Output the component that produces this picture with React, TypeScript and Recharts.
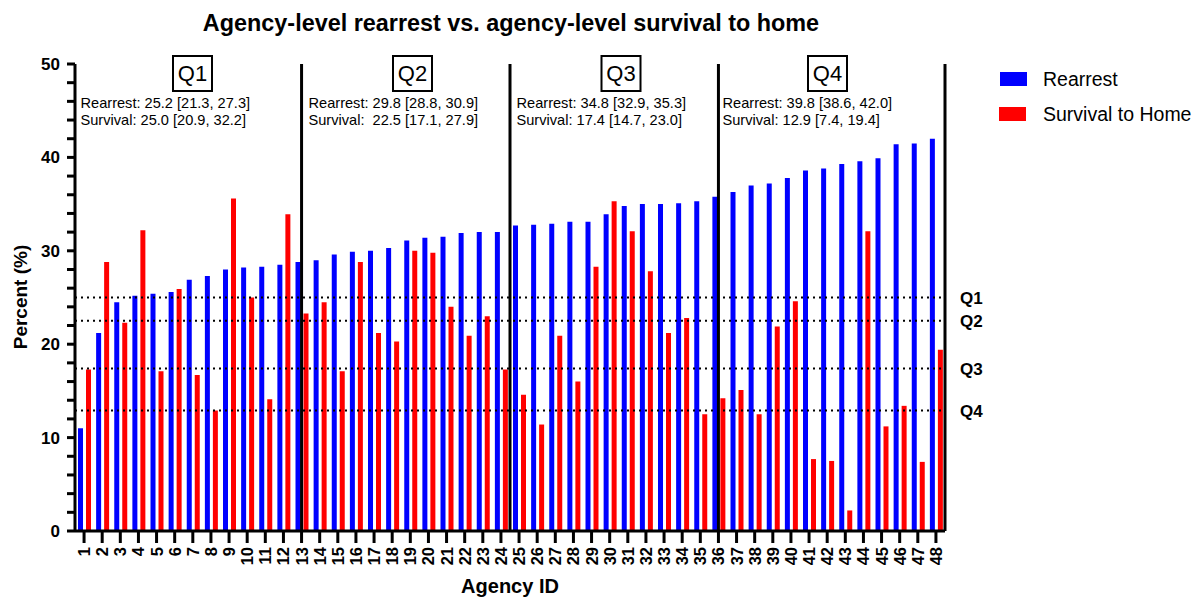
import React from 'react';
import { BarChart, Bar, XAxis, YAxis, ReferenceLine } from 'recharts';

const agencyIds: string[] = Array.from({ length: 48 }, (_, i) => String(i + 1));

const rearrest: number[] = [
  11.0, 21.2, 24.5, 25.2, 25.4, 25.6, 26.9, 27.3, 28.0, 28.2, 28.3, 28.5,
  28.8, 29.0, 29.6, 29.9, 30.0, 30.3, 31.1, 31.4, 31.5, 31.9, 32.0, 32.0,
  32.7, 32.8, 32.9, 33.1, 33.1, 33.9, 34.8, 35.0, 35.0, 35.1, 35.3, 35.8,
  36.3, 37.0, 37.2, 37.8, 38.6, 38.8, 39.3, 39.6, 39.9, 41.4, 41.5, 42.0,
];

const survival: number[] = [
  17.3, 28.8, 22.3, 32.2, 17.1, 25.9, 16.7, 12.9, 35.6, 25.0, 14.1, 33.9,
  23.3, 24.5, 17.1, 28.8, 21.2, 20.3, 30.0, 29.8, 24.0, 20.9, 23.0, 17.3,
  14.6, 11.4, 20.9, 16.0, 28.3, 35.3, 32.1, 27.8, 21.2, 22.8, 12.5, 14.2,
  15.1, 12.5, 21.9, 24.6, 7.7, 7.5, 2.2, 32.1, 11.2, 13.4, 7.4, 19.4,
];

const yTicks: number[] = Array.from({ length: 26 }, (_, i) => i * 2);

const quartileMedians: { name: string; value: number }[] = [
  { name: 'Q1', value: 25.0 },
  { name: 'Q2', value: 22.5 },
  { name: 'Q3', value: 17.4 },
  { name: 'Q4', value: 12.9 },
];

const dividers: { id: string; pos: 'start' | 'middle' | 'end' }[] = [
  { id: '13', pos: 'middle' },
  { id: '25', pos: 'start' },
  { id: '36', pos: 'middle' },
  { id: '48', pos: 'end' },
];

const quartileStats: { name: string; rearrest: string; survival: string }[] = [
  { name: 'Q1', rearrest: 'Rearrest: 25.2 [21.3, 27.3]', survival: 'Survival: 25.0 [20.9, 32.2]' },
  { name: 'Q2', rearrest: 'Rearrest: 29.8 [28.8, 30.9]', survival: 'Survival:  22.5 [17.1, 27.9]' },
  { name: 'Q3', rearrest: 'Rearrest: 34.8 [32.9, 35.3]', survival: 'Survival: 17.4 [14.7, 23.0]' },
  { name: 'Q4', rearrest: 'Rearrest: 39.8 [38.6, 42.0]', survival: 'Survival: 12.9 [7.4, 19.4]' },
];

// layout of annotation blocks (box left, text left)
const annoLayout = [
  { boxX: 173, textX: 80.5 },
  { boxX: 393, textX: 308.5 },
  { boxX: 601.5, textX: 516.5 },
  { boxX: 808, textX: 722.5 },
];

const data = agencyIds.map((id, i) => ({ id, rearrest: rearrest[i], survival: survival[i] }));

const FONT = '"Liberation Sans", Arial, Helvetica, sans-serif';

const XTick = (props: any) => {
  const { x, y, payload } = props;
  return (
    <text
      transform={`translate(${x},${y}) rotate(-90)`}
      textAnchor="end"
      dy="0.36em"
      fontFamily={FONT}
      fontWeight="bold"
      fontSize={16.5}
      fill="#000"
    >
      {payload.value}
    </text>
  );
};

export default function App() {
  return (
    <div style={{ position: 'absolute', left: 0, top: 0, width: 1200, height: 607, background: '#fff' }}>
      <BarChart
        width={1200}
        height={607}
        data={data}
        margin={{ top: 64, right: 255, bottom: 26, left: 15 }}
        barSize={5}
        barGap={3}
      >
        <XAxis
          dataKey="id"
          type="category"
          interval={0}
          height={50}
          tickSize={12}
          tickMargin={4}
          axisLine={{ stroke: '#000', strokeWidth: 3 }}
          tickLine={{ stroke: '#000', strokeWidth: 3 }}
          tick={<XTick />}
        />
        <YAxis
          type="number"
          domain={[0, 50]}
          ticks={yTicks}
          interval={0}
          width={60}
          tickSize={8}
          tickMargin={7}
          axisLine={{ stroke: '#000', strokeWidth: 3 }}
          tickLine={{ stroke: '#000', strokeWidth: 3 }}
          tickFormatter={(v: number) => (v % 10 === 0 ? String(v) : '')}
          tick={{ fill: '#000', fontFamily: FONT, fontWeight: 'bold', fontSize: 17 }}
        />
        <Bar dataKey="rearrest" fill="#0000ff" isAnimationActive={false} />
        <Bar dataKey="survival" fill="#ff0000" isAnimationActive={false} />
        {quartileMedians.map((q) => (
          <ReferenceLine
            key={q.name}
            y={q.value}
            stroke="#000"
            strokeWidth={2}
            strokeDasharray="2 4"
            label={{
              value: q.name,
              position: 'right',
              offset: 15,
              fill: '#000',
              fontFamily: FONT,
              fontWeight: 'bold',
              fontSize: 17,
            }}
          />
        ))}
        {dividers.map((d) => (
          <ReferenceLine key={d.id} x={d.id} position={d.pos} stroke="#000" strokeWidth={3} />
        ))}
      </BarChart>
      <svg
        width={1200}
        height={607}
        style={{ position: 'absolute', left: 0, top: 0, pointerEvents: 'none' }}
        fontFamily={FONT}
      >
        <text x={511} y={31} textAnchor="middle" fontWeight="bold" fontSize={23.4} fill="#000">
          Agency-level rearrest vs. agency-level survival to home
        </text>
        <text
          transform="translate(27,297) rotate(-90)"
          textAnchor="middle"
          fontWeight="bold"
          fontSize={19}
          fill="#000"
        >
          Percent (%)
        </text>
        <text x={510} y={593} textAnchor="middle" fontWeight="bold" fontSize={20} fill="#000">
          Agency ID
        </text>
        {quartileStats.map((q, i) => (
          <g key={q.name}>
            <rect
              x={annoLayout[i].boxX}
              y={56}
              width={39}
              height={35}
              fill="#fff"
              stroke="#000"
              strokeWidth={2}
            />
            <text x={annoLayout[i].boxX + 19.5} y={81} textAnchor="middle" fontSize={22} fill="#000">
              {q.name}
            </text>
            <text x={annoLayout[i].textX} y={107.5} fontSize={14.6} fill="#000" style={{ whiteSpace: 'pre' }}>
              {q.rearrest}
            </text>
            <text x={annoLayout[i].textX} y={125} fontSize={14.6} fill="#000" style={{ whiteSpace: 'pre' }}>
              {q.survival}
            </text>
          </g>
        ))}
        <rect x={1000} y={72} width={27} height={14} fill="#0000ff" />
        <text x={1043} y={86} fontSize={19.5} fill="#000">Rearrest</text>
        <rect x={999} y={107} width={27} height={14} fill="#ff0000" />
        <text x={1043} y={121} fontSize={19.5} fill="#000">Survival to Home</text>
      </svg>
    </div>
  );
}
